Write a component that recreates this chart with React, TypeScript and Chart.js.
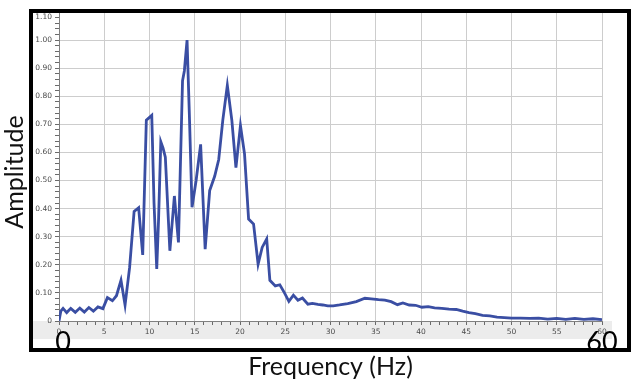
import { useEffect, useRef } from "react";
import { Chart, registerables } from "chart.js";

Chart.register(...registerables);

// Frequency (Hz) of each sample
const freqHz = [
  0, 0.2, 0.45, 0.85, 1.3, 1.8, 2.3, 2.8, 3.3, 3.8,
  4.3, 4.85, 5.35, 5.9, 6.35, 6.85, 7.3, 7.8, 8.3, 8.8,
  9.25, 9.65, 10.25, 10.5, 10.8, 11.0, 11.25, 11.5, 11.75, 12.25,
  12.75, 13.2, 13.65, 13.85, 14.15, 14.4, 14.7, 15.15, 15.65, 16.15,
  16.65, 17.2, 17.65, 18.1, 18.6, 19.1, 19.55, 20.05, 20.5, 20.95,
  21.5, 22.0, 22.45, 22.95, 23.3, 23.9, 24.4, 24.9, 25.4, 25.9,
  26.4, 26.9, 27.5, 28.0, 28.6, 29.15, 29.7, 30.3, 31.0, 31.9,
  32.85, 33.8, 34.5, 35.3, 36.0, 36.7, 37.4, 38.0, 38.7, 39.4,
  40.1, 40.8, 41.5, 42.3, 43.1, 43.9, 44.6, 45.3, 46.0, 46.8,
  47.6, 48.4, 49.2, 50.0, 51.0, 52.0, 53.0, 54.0, 55.0, 56.0,
  57.0, 58.0, 59.0, 60.0,
];

// Normalised amplitude at each frequency
const amplitude = [
  0.0, 0.035, 0.045, 0.03, 0.045, 0.031, 0.046, 0.032, 0.048, 0.035,
  0.05, 0.044, 0.083, 0.072, 0.09, 0.145, 0.057, 0.19, 0.39, 0.403,
  0.235, 0.715, 0.732, 0.42, 0.185, 0.36, 0.638, 0.615, 0.583, 0.25,
  0.445, 0.28, 0.855, 0.89, 1.0, 0.74, 0.405, 0.5, 0.629, 0.256,
  0.464, 0.515, 0.575, 0.715, 0.839, 0.714, 0.546, 0.696, 0.595, 0.363,
  0.345, 0.202, 0.262, 0.292, 0.145, 0.125, 0.129, 0.101, 0.07, 0.092,
  0.074, 0.082, 0.06, 0.063, 0.059, 0.057, 0.054, 0.054, 0.057, 0.062,
  0.069, 0.081, 0.079, 0.076, 0.074, 0.069, 0.058, 0.064, 0.057, 0.056,
  0.049, 0.051, 0.047, 0.045, 0.042, 0.041, 0.035, 0.03, 0.026, 0.02,
  0.018, 0.014, 0.012, 0.01, 0.01, 0.009, 0.01, 0.007, 0.009, 0.006,
  0.009, 0.006, 0.008, 0.005,
];

const xMin = 0;
const xMax = 60;
const xMinorStep = 1;
const xMajorStep = 5;
const yMin = 0;
const yMax = 1.1;
const yMinorStep = 0.02;
const yMajorStep = 0.1;

const xTitle = "Frequency (Hz)";
const yTitle = "Amplitude";
const overlayLabels = [String(xMin), String(xMax)];

const isMultiple = (v: number, step: number) =>
  Math.abs(v / step - Math.round(v / step)) < 1e-6;

const decorPlugin = {
  id: "decor",
  beforeDraw(chart: any) {
    const { ctx, chartArea } = chart;
    ctx.save();
    ctx.fillStyle = "#ececec";
    ctx.fillRect(33, chartArea.bottom, 612 - 33, 18);
    ctx.restore();
  },
  afterDraw(chart: any) {
    const { ctx, scales } = chart;
    const xs = scales.x;
    const ys = scales.y;
    ctx.save();
    // top tick label, nudged inside the frame
    ctx.font = "7.5px 'DejaVu Sans'";
    ctx.fillStyle = "#4a4a4a";
    ctx.textAlign = "right";
    ctx.textBaseline = "middle";
    ctx.fillText(yMax.toFixed(2), ys.right - 7, ys.getPixelForValue(yMax) + 5);
    // y axis title
    ctx.save();
    ctx.translate(15, 172);
    ctx.rotate(-Math.PI / 2);
    ctx.font = "25px Lato";
    ctx.fillStyle = "#111";
    ctx.textAlign = "center";
    ctx.textBaseline = "middle";
    ctx.fillText(yTitle, 0, 0);
    ctx.restore();
    // frame
    ctx.strokeStyle = "#000";
    ctx.lineWidth = 4;
    ctx.strokeRect(31, 11, 598, 339);
    // big overlay labels
    ctx.font = "27px Lato";
    ctx.fillStyle = "#000";
    ctx.textAlign = "center";
    ctx.textBaseline = "alphabetic";
    ctx.fillText(overlayLabels[0], xs.getPixelForValue(xMin) + 4, 351);
    ctx.fillText(overlayLabels[1], xs.getPixelForValue(xMax), 351);
    ctx.restore();
  },
};

export default function App() {
  const ref = useRef<HTMLCanvasElement>(null);

  useEffect(() => {
    document.body.style.margin = "0";
    const chart = new Chart(ref.current as HTMLCanvasElement, {
      type: "line",
      data: {
        datasets: [
          {
            data: freqHz.map((f, i) => ({ x: f, y: amplitude[i] })),
            borderColor: "#3a4ea3",
            borderWidth: 2.8,
            pointRadius: 0,
            tension: 0,
            fill: false,
          },
        ],
      },
      options: {
        responsive: false,
        animation: false,
        layout: { padding: { left: 0, right: 38, top: 12, bottom: 0 } },
        plugins: {
          legend: { display: false },
          tooltip: { enabled: false },
        },
        scales: {
          x: {
            type: "linear",
            min: xMin,
            max: xMax,
            ticks: {
              stepSize: xMinorStep,
              autoSkip: false,
              maxRotation: 0,
              includeBounds: false,
              padding: 3,
              color: "#4a4a4a",
              font: { family: "DejaVu Sans", size: 7.5 },
              callback: (v: any) => (isMultiple(Number(v), xMajorStep) ? String(v) : ""),
            },
            grid: {
              color: (c: any) =>
                isMultiple(c.tick.value, xMajorStep) ? "#cdcdcd" : "rgba(0,0,0,0)",
              tickColor: "#6a6a6a",
              tickLength: 4,
              lineWidth: 1,
            },
            border: { color: "#808080", width: 1 },
            title: {
              display: true,
              text: xTitle,
              color: "#111",
              font: { family: "Lato", size: 25 },
              padding: { top: 0, bottom: 2 },
            },
            afterFit: (s: any) => {
              s.height = 63;
            },
          },
          y: {
            type: "linear",
            min: yMin,
            max: yMax,
            ticks: {
              stepSize: yMinorStep,
              autoSkip: false,
              includeBounds: false,
              padding: 3,
              color: "#4a4a4a",
              font: { family: "DejaVu Sans", size: 7.5 },
              callback: (v: any) => {
                const n = Number(v);
                if (!isMultiple(n, yMajorStep)) return "";
                if (Math.abs(n) < 1e-9) return "0";
                if (Math.abs(n - yMax) < 1e-6) return "";
                return n.toFixed(2);
              },
            },
            grid: {
              color: (c: any) =>
                isMultiple(c.tick.value, yMajorStep) ? "#cdcdcd" : "rgba(0,0,0,0)",
              tickColor: "#6a6a6a",
              tickLength: 4,
              lineWidth: 1,
            },
            border: { color: "#808080", width: 1 },
            afterFit: (s: any) => {
              s.width = 59;
            },
          },
        },
      },
      plugins: [decorPlugin],
    });
    return () => chart.destroy();
  }, []);

  return (
    <div style={{ position: "fixed", left: 0, top: 0, width: 640, height: 384, background: "#fff" }}>
      <canvas ref={ref} width={640} height={384} style={{ display: "block" }} />
    </div>
  );
}
